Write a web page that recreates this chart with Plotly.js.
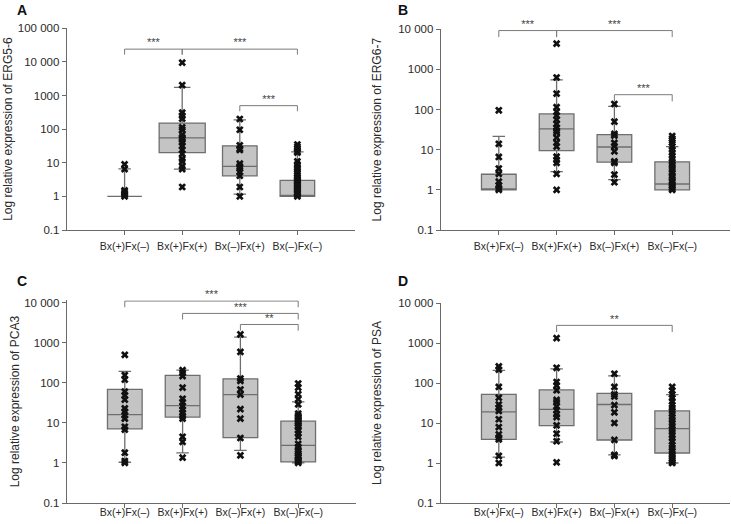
<!DOCTYPE html>
<html>
<head>
<meta charset="utf-8">
<script src="https://cdn.plot.ly/plotly-3.0.1.min.js"></script>
<style>html,body{margin:0;padding:0;background:#fff;}#chart{width:731px;height:524px;}</style>
</head>
<body>
<div id="chart"></div>
<script>
// ---------- data ----------
const categories = ['Bx(+)Fx(–)', 'Bx(+)Fx(+)', 'Bx(–)Fx(+)', 'Bx(–)Fx(–)'];
const catIndex = [0, 1, 2, 3];

const panelLetters = ['A', 'B', 'C', 'D'];
const yTitles = [
  'Log relative expression of ERG5-6',
  'Log relative expression of ERG6-7',
  'Log relative expression of PCA3',
  'Log relative expression of PSA'
];
const yTickVals = [0.1, 1, 10, 100, 1000, 10000, 100000];
const yTickText = ['0.1', '1', '10', '100', '1000', '10 000', '100 000'];

// Panel A: ERG5-6
const aQ1  = [1, 20, 4.1, 1];
const aMed = [1, 55, 7.8, 1];
const aQ3  = [1, 152, 32, 3.0];
const aLo  = [1, 6.5, 1.17, 1];
const aHi  = [6.6, 1740, 190, 21];
const aPts = [
  [9, 6.5, 1.5, 1.35, 1.2, 1.1, 1.0],
  [9500, 2050, 310, 250, 205, 113, 96, 69, 57, 49, 40, 32, 24, 18.6, 13, 11, 7.8, 6.5, 1.9],
  [200, 96, 33, 26, 24, 9.4, 7.8, 6.7, 5.3, 4.1, 1.9, 1.0],
  [35, 30, 26, 22, 20, 11, 9, 7.5, 6.5, 5.5, 4.8, 4.2, 3.7, 3.3, 3.0, 2.7, 2.4, 2.2, 2.0, 1.8, 1.6, 1.45, 1.3, 1.2, 1.1, 1.0]
];
const aBrackets = [[0, 1, 24000, 16500, '***'], [1, 3, 24000, 16500, '***'], [2, 3, 500, 340, '***']];

// Panel B: ERG6-7
const bQ1  = [1, 9.5, 4.9, 1];
const bMed = [1, 33, 11.7, 1.4];
const bQ3  = [2.45, 78, 23.7, 5.0];
const bLo  = [1, 2.85, 1.8, 1];
const bHi  = [21.5, 550, 120, 11.9];
const bPts = [
  [96, 14, 6.6, 3.4, 2.5, 1.6, 1.3, 1.1, 1.0],
  [4400, 630, 250, 115, 88, 71, 56, 44, 35, 30, 27, 20, 15, 12, 6.7, 5.6, 4.7, 2.5, 1.0],
  [138, 50, 24.7, 22.4, 14.8, 12.2, 9.1, 5.1, 4.7, 2.4, 1.55],
  [22, 19, 17, 15, 12, 10, 8.5, 7, 6, 5, 4.3, 3.7, 3.2, 2.7, 2.3, 2.0, 1.7, 1.5, 1.3, 1.15, 1.05, 1.0]
];
const bBrackets = [[0, 1, 9300, 6400, '***'], [1, 3, 9300, 6400, '***'], [2, 3, 235, 160, '***']];

// Panel C: PCA3
const cQ1  = [7.1, 14, 4.3, 1.06];
const cMed = [16, 27, 51, 2.76];
const cQ3  = [69, 153, 126, 11];
const cLo  = [1.04, 1.78, 2.07, 1];
const cHi  = [192, 207, 1390, 33.5];
const cPts = [
  [500, 155, 120, 60, 49, 38, 23, 19, 15.5, 12.8, 8, 6.8, 1.8, 1.12, 1.0],
  [207, 178, 147, 76, 40, 33, 26, 21.5, 17.8, 14.7, 12.8, 4.5, 3.35, 1.36],
  [1620, 590, 128, 112, 68, 51, 22, 12.8, 4.2, 1.55],
  [96, 76, 52, 39, 29, 17, 15, 14, 13, 11.7, 10.5, 9.6, 8.7, 7.9, 6.5, 5.4, 4.5, 3.0, 2.5, 2.1, 1.9, 1.7, 1.5, 1.4, 1.25, 1.17, 1.08, 1.0]
];
const cBrackets = [[0, 3, 11000, 7700, '***'], [1, 3, 5400, 3800, '***'], [2, 3, 2860, 2000, '**']];

// Panel D: PSA
const dQ1  = [3.9, 8.6, 3.76, 1.78];
const dMed = [19, 22, 29, 7.2];
const dQ3  = [52, 67, 55, 20];
const dLo  = [1.41, 3.35, 1.6, 1];
const dHi  = [206, 225, 150, 51];
const dPts = [
  [260, 215, 80, 43, 29, 24, 20, 12.4, 7.9, 5.2, 4.3, 3.9, 1.5, 1.0],
  [1330, 240, 106, 87, 66, 38, 33.5, 26, 21, 16.5, 14, 8.7, 5.4, 3.5, 1.04],
  [170, 80, 52, 46, 28, 18.5, 10, 3.8, 1.6, 1.5],
  [80, 65, 52, 42, 35, 28, 24, 20, 17, 14, 12, 10, 8.5, 7, 6, 5, 4.2, 3.5, 2.8, 2.4, 2.0, 1.7, 1.5, 1.3, 1.15, 1.05, 1.0]
];
const dBrackets = [[1, 3, 2760, 1880, '**']];

// ---------- styling ----------
const FONT = 'Arial, "Liberation Sans", sans-serif';
const TXT = '#2a2a2a';
const AX = '#6a6a6a';
const BOX_FILL = '#c4c4c4';
const BOX_LINE = '#6e6e6e';

// yTop: log10 of range top; yd: pixel rows of [range top, 0.1]
const panels = [
  {q1: aQ1, med: aMed, q3: aQ3, lo: aLo, hi: aHi, pts: aPts, br: aBrackets, widths: [0.6, 0.8, 0.6, 0.6], yTop: 5,
   xd: [67, 355], yd: [28.3, 230], standoff: 2, xStand: 2, letter: [21.5, 10]},
  {q1: bQ1, med: bMed, q3: bQ3, lo: bLo, hi: bHi, pts: bPts, br: bBrackets, widths: [0.6, 0.6, 0.6, 0.6], yTop: 4,
   xd: [441, 730], yd: [29.3, 230], standoff: 14, xStand: 2, letter: [402.5, 10]},
  {q1: cQ1, med: cMed, q3: cQ3, lo: cLo, hi: cHi, pts: cPts, br: cBrackets, widths: [0.6, 0.6, 0.6, 0.6], yTop: 4.06,
   xd: [67, 356], yd: [300.3, 503], standoff: 2, xStand: -5, letter: [21.5, 281]},
  {q1: dQ1, med: dMed, q3: dQ3, lo: dLo, hi: dHi, pts: dPts, br: dBrackets, widths: [0.6, 0.6, 0.6, 0.6], yTop: 4,
   xd: [441, 730], yd: [303, 503], standoff: 14, xStand: -5, letter: [402.5, 281]}
];

const W = 731, H = 524;
const traces = [];
const layout = {
  width: W, height: H,
  margin: {l: 0, r: 0, t: 0, b: 0},
  paper_bgcolor: '#ffffff', plot_bgcolor: '#ffffff',
  showlegend: false, boxmode: 'overlay',
  font: {family: FONT, color: TXT, size: 11},
  annotations: []
};

panels.forEach((p, i) => {
  const n = i === 0 ? '' : String(i + 1);
  const xa = 'x' + n, ya = 'y' + n;

  // boxes
  catIndex.forEach(k => {
    traces.push({
      type: 'box', xaxis: xa, yaxis: ya,
      x: [k], q1: [p.q1[k]], median: [p.med[k]], q3: [p.q3[k]],
      lowerfence: [p.lo[k]], upperfence: [p.hi[k]],
      width: p.widths[k], whiskerwidth: 0.36,
      fillcolor: BOX_FILL, line: {color: BOX_LINE, width: 1.3},
      boxpoints: false, hoverinfo: 'skip'
    });
  });

  // points
  const px = [], py = [];
  catIndex.forEach(k => p.pts[k].forEach(v => { px.push(k); py.push(v); }));
  traces.push({
    type: 'scatter', mode: 'markers', xaxis: xa, yaxis: ya,
    x: px, y: py,
    marker: {symbol: 'x', size: 6.8, color: '#111111', line: {width: 0}},
    hoverinfo: 'skip', cliponaxis: false
  });

  // significance brackets
  const bx = [], by = [], tx = [], ty = [], tt = [];
  p.br.forEach(b => {
    bx.push(b[0], b[0], b[1], b[1], null);
    by.push(b[3], b[2], b[2], b[3], null);
    tx.push((b[0] + b[1]) / 2); ty.push(b[2]); tt.push(b[4]);
  });
  traces.push({
    type: 'scatter', mode: 'lines', xaxis: xa, yaxis: ya,
    x: bx, y: by, line: {color: '#7a7a7a', width: 1},
    hoverinfo: 'skip', cliponaxis: false
  });
  traces.push({
    type: 'scatter', mode: 'text', xaxis: xa, yaxis: ya,
    x: tx, y: ty, text: tt, textposition: 'top center',
    textfont: {family: FONT, size: 11, color: '#444'},
    hoverinfo: 'skip', cliponaxis: false
  });

  layout['xaxis' + n] = {
    domain: [p.xd[0] / W, p.xd[1] / W], anchor: ya,
    range: [-1, 4], tickvals: catIndex, ticktext: categories,
    ticks: 'outside', ticklen: 4, tickcolor: AX, tickwidth: 1,
    ticklabelstandoff: p.xStand,
    showline: true, linecolor: AX, linewidth: 1.3,
    showgrid: false, zeroline: false,
    tickfont: {family: FONT, size: 10.5, color: TXT}
  };
  layout['yaxis' + n] = {
    domain: [1 - p.yd[1] / H, 1 - p.yd[0] / H], anchor: xa,
    type: 'log', range: [-1, p.yTop],
    tickvals: yTickVals, ticktext: yTickText,
    ticks: 'outside', ticklen: 4, tickcolor: AX, tickwidth: 1,
    showline: true, linecolor: AX, linewidth: 1.3,
    showgrid: false, zeroline: false,
    tickfont: {family: FONT, size: 11.5, color: TXT},
    title: {text: yTitles[i], font: {family: FONT, size: 12, color: TXT}, standoff: p.standoff}
  };

  layout.annotations.push({
    xref: 'paper', yref: 'paper',
    x: p.letter[0] / W, y: 1 - p.letter[1] / H,
    xanchor: 'center', yanchor: 'middle',
    text: '<b>' + panelLetters[i] + '</b>', showarrow: false,
    font: {family: FONT, size: 14, color: '#111'}
  });
});

Plotly.newPlot('chart', traces, layout, {staticPlot: true, displayModeBar: false});
</script>
</body>
</html>
